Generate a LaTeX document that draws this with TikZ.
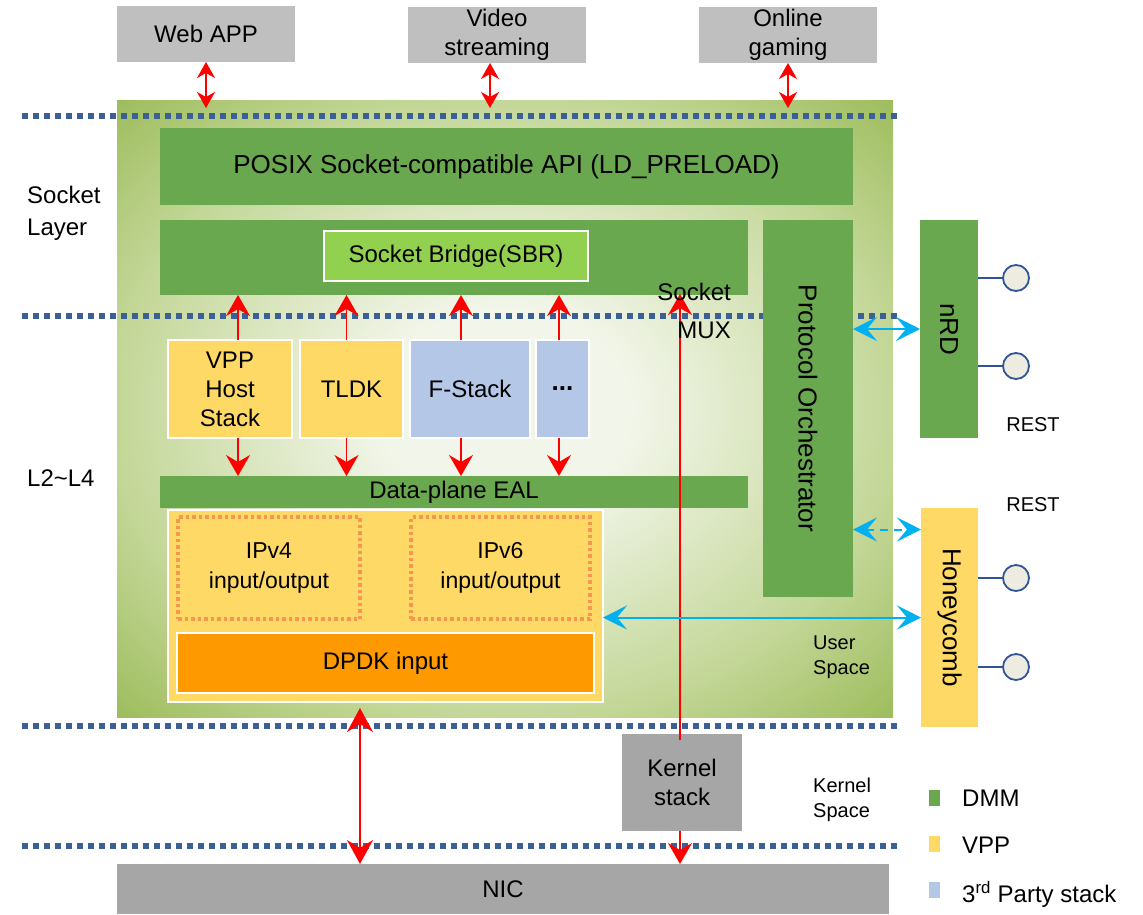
\documentclass[tikz,border=0pt]{standalone}
\usepackage{fontspec}
\setmainfont{Liberation Sans}
\usetikzlibrary{arrows.meta,positioning}

\definecolor{dmmgreen}{RGB}{106,168,79}
\definecolor{sbrgreen}{RGB}{146,208,80}
\definecolor{vppyellow}{RGB}{255,217,102}
\definecolor{thirdblue}{RGB}{180,199,231}
\definecolor{dpdkorange}{RGB}{255,153,0}
\definecolor{dotorange}{RGB}{246,150,80}
\definecolor{appgray}{RGB}{191,191,191}
\definecolor{hwgray}{RGB}{166,166,166}
\definecolor{sepblue}{RGB}{58,96,150}
\definecolor{linkblue}{RGB}{0,176,240}
\definecolor{portfill}{RGB}{238,236,225}
\definecolor{portedge}{RGB}{47,85,151}
\definecolor{bgin}{RGB}{242,246,234}
\definecolor{bgmid}{RGB}{196,215,152}
\definecolor{bgout}{RGB}{155,187,89}

\pgfdeclareradialshading{layershade}{\pgfpoint{0bp}{0bp}}{color(0bp)=(bgin); color(8bp)=(bgin); color(25bp)=(bgmid); color(36bp)=(bgout); color(50bp)=(bgout)}

\tikzset{
  blk/.style={inner sep=0pt, outer sep=0pt, align=center, font=\fontsize{24}{29}\selectfont},
  appbox/.style={blk, fill=appgray},
  hwbox/.style={blk, fill=hwgray},
  dmmbox/.style={blk, fill=dmmgreen},
  vppbox/.style={blk, fill=vppyellow, draw=white, line width=2pt},
  tpbox/.style={blk, fill=thirdblue, draw=white, line width=2pt},
  iobox/.style={blk, draw=dotorange, line width=3.5pt, dash pattern=on 3.5pt off 3pt, font=\fontsize{23}{30}\selectfont},
  sepline/.style={sepblue, line width=6pt, dash pattern=on 6pt off 5pt},
  redarr/.style={red, line width=1.8pt, {Stealth[length=16pt,width=18pt,inset=5pt]}-{Stealth[length=16pt,width=18pt,inset=5pt]}},
  redup/.style={red, line width=1.8pt, -{Stealth[length=21pt,width=24pt,inset=7pt]}},
  bigarr/.style={red, line width=1.8pt, {Stealth[length=24pt,width=26pt,inset=8pt]}-{Stealth[length=24pt,width=26pt,inset=8pt]}},
  bluearr/.style={linkblue, line width=2pt, {Stealth[length=24pt,width=24pt,inset=10pt]}-{Stealth[length=24pt,width=24pt,inset=10pt]}},
  port/.style={circle, draw=portedge, fill=portfill, line width=1.8pt, minimum size=26pt, inner sep=0pt},
  portlink/.style={portedge, line width=1.8pt},
  lbl/.style={inner sep=0pt, font=\fontsize{24}{32}\selectfont},
  small/.style={inner sep=0pt, font=\fontsize{20}{25}\selectfont},
  key/.style={inner sep=0pt, minimum width=11pt, minimum height=16pt}
}

\begin{document}
\begin{tikzpicture}[x=1pt,y=1pt,yscale=-1]
\useasboundingbox (0,0) rectangle (1143,914);

% user space layer
\shade[shading=layershade] (117,100) rectangle (893,717);

% separators
\draw[sepline] (22,116) -- (900,116);
\draw[sepline] (22,316) -- (900,316);
\draw[sepline] (22,726) -- (900,726);
\draw[sepline] (22,846) -- (900,846);
\coordinate (septop) at (22,108);

% applications
\node[appbox, minimum width=178pt, minimum height=56pt] (web) at (206,34) {Web APP};
\node[appbox, minimum width=178pt, minimum height=56pt] (video) at (497,35) {Video\\streaming};
\node[appbox, minimum width=178pt, minimum height=56pt] (game) at (788,35) {Online\\gaming};

% DMM
\node[dmmbox, minimum width=693pt, minimum height=77pt, font=\fontsize{26}{30}\selectfont] (posix) at (506.5,166.5) {POSIX Socket-compatible API (LD\_PRELOAD)};
\node[dmmbox, minimum width=588pt, minimum height=75pt] (sock) at (454,257.5) {};
\node[blk, fill=sbrgreen, draw=white, line width=1.5pt, minimum width=264pt, minimum height=50pt] (sbr) at (456,256) {Socket Bridge(SBR)};
\node[dmmbox, minimum width=90pt, minimum height=377pt] (orch) at (808,408.5) {};
\node[rotate=-90, font=\fontsize{26}{30}\selectfont] at (orch) {Protocol Orchestrator};
\node[dmmbox, minimum width=588pt, minimum height=32pt] (eal) at (454,492) {Data-plane EAL};

% stacks
\node[vppbox, minimum width=124pt, minimum height=98pt] (vpphs) at (230,389) {VPP\\Host\\Stack};
\node[vppbox, minimum width=103pt, minimum height=98pt] (tldk) at (351.5,389) {TLDK};
\node[tpbox, minimum width=120pt, minimum height=98pt] (fstack) at (470,389) {F-Stack};
\node[tpbox, minimum width=53pt, minimum height=98pt, font=\fontsize{26}{30}\bfseries] (more) at (562.5,389) {...};

% VPP data plane
\node[vppbox, minimum width=435pt, minimum height=192pt] (vpp) at (385.5,606) {};
\node[iobox, minimum width=182pt, minimum height=102pt] (ipv4) at (269,568) {IPv4\\input/output};
\node[iobox, minimum width=179pt, minimum height=102pt] (ipv6) at (500.5,568) {IPv6\\input/output};
\node[blk, fill=dpdkorange, draw=white, line width=2pt, minimum width=417pt, minimum height=60pt] (dpdk) at (385.5,663) {DPDK input};

% kernel and NIC
\node[hwbox, minimum width=120pt, minimum height=97pt] (kernel) at (682,782.5) {Kernel\\stack};
\node[hwbox, minimum width=772pt, minimum height=50pt] (nic) at (503,889) {NIC};

% management
\node[dmmbox, minimum width=58pt, minimum height=218pt] (nrd) at (949,329) {};
\node[rotate=-90, font=\fontsize{26}{30}\selectfont] at (nrd) {nRD};
\node[blk, fill=vppyellow, minimum width=57pt, minimum height=219pt] (honey) at (949.5,617.5) {};
\node[rotate=-90, font=\fontsize{26}{30}\selectfont] at (honey) {Honeycomb};

\node[port] (p1) at (1016,278) {};
\node[port] (p2) at (1016,366) {};
\node[port] (p3) at (1016,578) {};
\node[port] (p4) at (1016,667) {};
\draw[portlink] (nrd.east |- p1) -- (p1);
\draw[portlink] (nrd.east |- p2) -- (p2);
\draw[portlink] (honey.east |- p3) -- (p3);
\draw[portlink] (honey.east |- p4) -- (p4);

% app arrows
\draw[redarr] (web.south) -- (web.south |- septop);
\draw[redarr] ([xshift=-7pt]video.south) -- ([xshift=-7pt]video.south |- septop);
\draw[redarr] (game.south) -- (game.south |- septop);

% stack arrows
\draw[redup] ([xshift=8pt]vpphs.north) -- ([xshift=8pt]vpphs.north |- sock.south);
\draw[redup] ([xshift=-5pt]tldk.north) -- ([xshift=-5pt]tldk.north |- sock.south);
\draw[redup] ([xshift=-9pt]fstack.north) -- ([xshift=-9pt]fstack.north |- sock.south);
\draw[redup] ([xshift=-3.5pt]more.north) -- ([xshift=-3.5pt]more.north |- sock.south);
\draw[redup] ([xshift=8pt]vpphs.south) -- ([xshift=8pt]vpphs.south |- eal.north);
\draw[redup] ([xshift=-5pt]tldk.south) -- ([xshift=-5pt]tldk.south |- eal.north);
\draw[redup] ([xshift=-9pt]fstack.south) -- ([xshift=-9pt]fstack.south |- eal.north);
\draw[redup] ([xshift=-3.5pt]more.south) -- ([xshift=-3.5pt]more.south |- eal.north);

% kernel path
\coordinate (muxtop) at (680,294);
\draw[redup] ([xshift=-2pt,yshift=6pt]kernel.north) -- (muxtop);
\draw[redup] ([xshift=-2pt]kernel.south) -- ([xshift=-2pt]kernel.south |- nic.north);
\draw[bigarr] ([xshift=-25.5pt,yshift=6pt]vpp.south) -- ([xshift=-25.5pt]vpp.south |- nic.north);

% management links
\coordinate (hcin) at ([yshift=-88pt]honey.west);
\draw[bluearr] (orch.east |- nrd.west) -- (nrd.west);
\draw[bluearr, dash pattern=on 8pt off 6pt] (orch.east |- hcin) -- (hcin);
\draw[bluearr] (vpp.east |- honey.west) -- (honey.west);

% labels
\node[lbl, anchor=west, align=left] (sl) at (27,213) {Socket\\Layer};
\node[lbl, anchor=west] (l24) at (27,478) {L2\textasciitilde L4};
\node[lbl, anchor=east, align=right, font=\fontsize{24}{38}\selectfont] (mux) at (731,311) {Socket\\MUX};
\node[small, anchor=west, align=left] (us) at (813,657) {User\\Space};
\node[small, anchor=west, align=left] (ks) at (813,800) {Kernel\\Space};
\node[small] (rest1) at (1033,425) {REST};
\node[small] (rest2) at (1033,505) {REST};

% legend
\node[key, fill=dmmgreen] (k1) at (934.5,798) {};
\node[key, fill=vppyellow] (k2) at (934.5,844) {};
\node[key, fill=thirdblue] (k3) at (934.5,890) {};
\node[lbl, anchor=west] at (962,798) {DMM};
\node[lbl, anchor=west] at (962,845) {VPP};
\node[lbl, anchor=west] at (962,894) {3\textsuperscript{rd} Party stack};

\end{tikzpicture}
\end{document}
